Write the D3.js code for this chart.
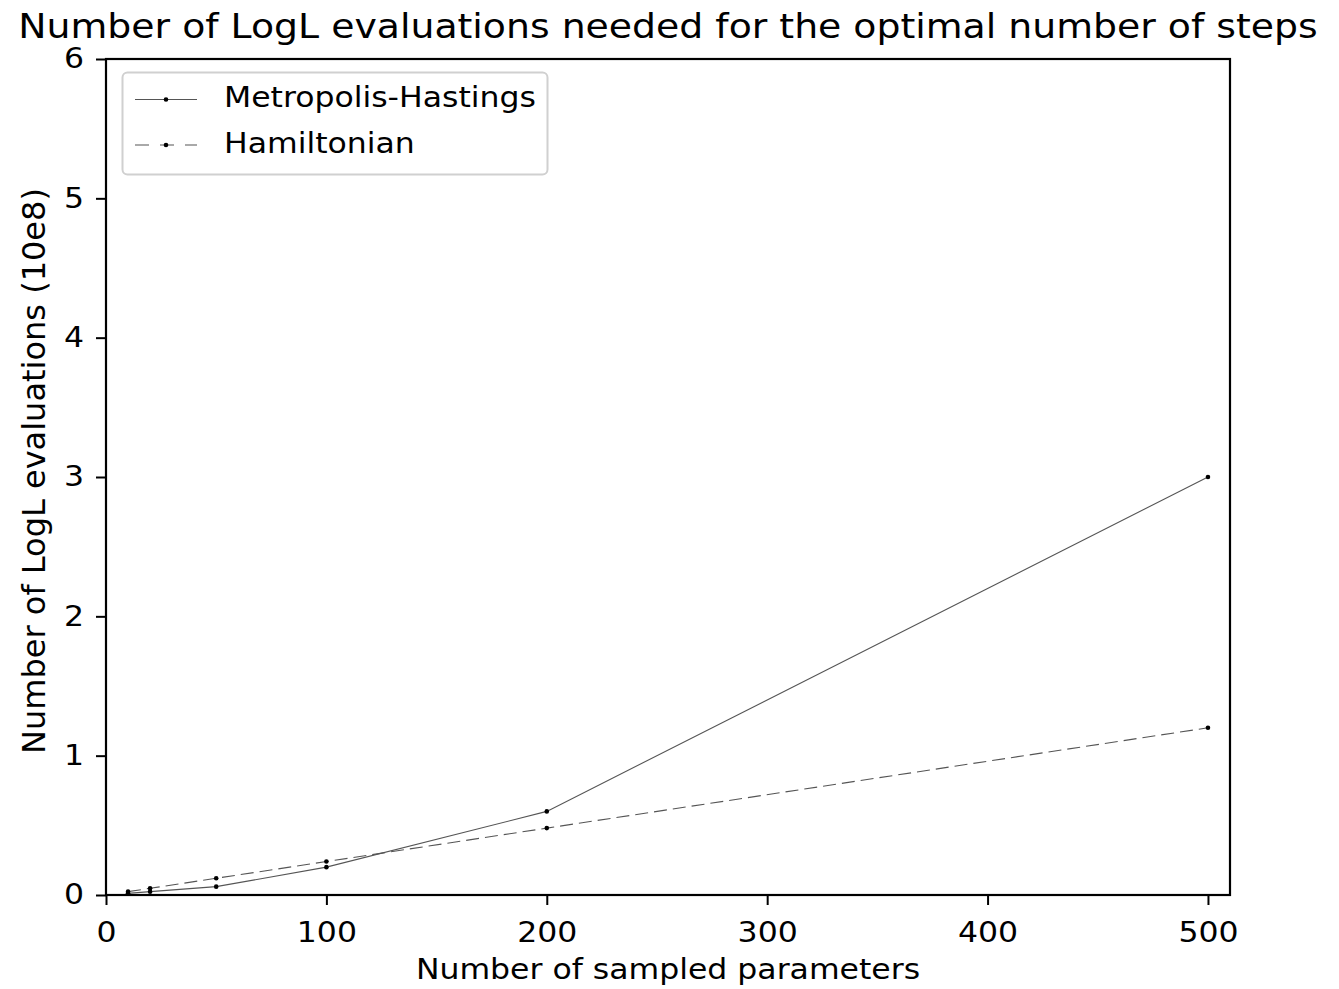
<!DOCTYPE html>
<html>
<head>
<meta charset="utf-8">
<script src="https://cdn.jsdelivr.net/npm/d3@7"></script>
<style>
  html, body { margin: 0; padding: 0; background: #fff; }
  svg { display: block; font-family: "DejaVu Sans", sans-serif; }
</style>
</head>
<body>
<svg id="chart" width="1339" height="989"></svg>
<script>
// Sampled parameter counts and LogL evaluation counts (units of 10e8)
const paramCounts = [10, 20, 50, 100, 200, 500];
const metropolisHastings = [0.012, 0.024, 0.06, 0.2, 0.6, 3.0];
const hamiltonian = [0.024, 0.048, 0.12, 0.24, 0.48, 1.2];
const xTicks = [0, 100, 200, 300, 400, 500];
const yTicks = [0, 1, 2, 3, 4, 5, 6];
const seriesNames = ["Metropolis-Hastings", "Hamiltonian"];

const svg = d3.select("#chart");
const plot = { left: 106, right: 1230, top: 59, bottom: 895 };

const x = d3.scaleLinear().domain([0, 510]).range([plot.left, plot.right]);
const y = d3.scaleLinear().domain([0, 6]).range([plot.bottom, plot.top]);

const fontSize = 28;
const widen = 1.125;

// Widen horizontal text glyphs slightly
function stretch(sel, factor) {
  sel.each(function () {
    const w = this.getComputedTextLength();
    d3.select(this).attr("textLength", w * factor).attr("lengthAdjust", "spacingAndGlyphs");
  });
}

// Axes
const xAxis = svg.append("g")
  .attr("transform", `translate(0,${plot.bottom})`)
  .call(d3.axisBottom(x).tickValues(xTicks).tickSize(10).tickPadding(17).tickFormat(d3.format("d")));
const yAxis = svg.append("g")
  .attr("transform", `translate(${plot.left},0)`)
  .call(d3.axisLeft(y).tickValues(yTicks).tickSize(10).tickPadding(12).tickFormat(d3.format("d")));

[xAxis, yAxis].forEach(g => {
  g.select(".domain").remove();
  g.selectAll(".tick line").attr("stroke", "#000").attr("stroke-width", 2);
  g.selectAll(".tick text").attr("fill", "#000").style("font-size", fontSize + "px")
    .style("font-family", "DejaVu Sans, sans-serif");
  stretch(g.selectAll(".tick text"), widen);
});

// Frame
svg.append("rect")
  .attr("x", plot.left).attr("y", plot.top)
  .attr("width", plot.right - plot.left).attr("height", plot.bottom - plot.top)
  .attr("fill", "none").attr("stroke", "#000").attr("stroke-width", 2.2);

// Series
const data = [
  { name: seriesNames[0], values: metropolisHastings, dash: null },
  { name: seriesNames[1], values: hamiltonian, dash: "13,6" }
];

const line = d3.line().x(d => x(d[0])).y(d => y(d[1]));

data.forEach(s => {
  const pts = paramCounts.map((p, i) => [p, s.values[i]]);
  svg.append("path")
    .datum(pts)
    .attr("d", line)
    .attr("fill", "none")
    .attr("stroke", "#555")
    .attr("stroke-width", 1.1)
    .attr("stroke-dasharray", s.dash);
  svg.append("g").selectAll("circle")
    .data(pts).join("circle")
    .attr("cx", d => x(d[0])).attr("cy", d => y(d[1]))
    .attr("r", 2.3).attr("fill", "#000");
});

// Legend
const legend = svg.append("g");
legend.append("rect")
  .attr("x", 122.5).attr("y", 72.5).attr("width", 425).attr("height", 102)
  .attr("rx", 5).attr("fill", "#fff").attr("fill-opacity", 0.8)
  .attr("stroke", "#d0d0d0").attr("stroke-width", 2);
data.forEach((s, i) => {
  const ly = 99.5 + i * 45.5;
  legend.append("line")
    .attr("x1", 135).attr("x2", 197).attr("y1", ly).attr("y2", ly)
    .attr("stroke", "#555").attr("stroke-width", 1.1)
    .attr("stroke-dasharray", s.dash ? "14,11" : null);
  legend.append("circle").attr("cx", 166).attr("cy", ly).attr("r", 2.3).attr("fill", "#000");
  legend.append("text")
    .attr("x", 224).attr("y", ly + 7.5)
    .style("font-size", fontSize + "px")
    .text(s.name)
    .call(stretch, widen);
});

// Titles
svg.append("text")
  .attr("x", (plot.left + plot.right) / 2).attr("y", 37.5)
  .attr("text-anchor", "middle")
  .style("font-size", "33.3px")
  .text("Number of LogL evaluations needed for the optimal number of steps")
  .call(stretch, 1.135);

svg.append("text")
  .attr("x", (plot.left + plot.right) / 2).attr("y", 979)
  .attr("text-anchor", "middle")
  .style("font-size", fontSize + "px")
  .text("Number of sampled parameters")
  .call(stretch, widen);

svg.append("text")
  .attr("transform", `translate(45,471) rotate(-90)`)
  .attr("text-anchor", "middle")
  .style("font-size", "32px")
  .text("Number of LogL evaluations (10e8)");
</script>
</body>
</html>
